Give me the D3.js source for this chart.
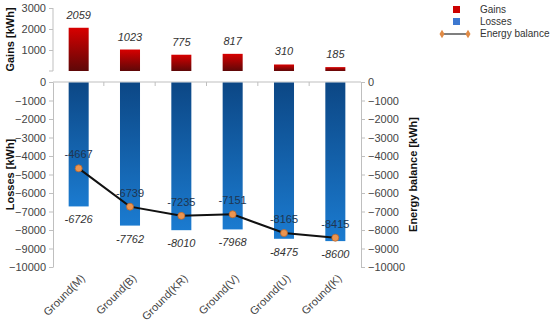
<!DOCTYPE html>
<html>
<head>
<meta charset="utf-8">
<script src="https://cdn.jsdelivr.net/npm/d3@7"></script>
<style>
	body {
		padding: 0;
		margin: 0;
		background: #fff;
	}
	text {
		font-family: "Liberation Sans", Arial, sans-serif;
	}
	.axis path, .axis line {
		stroke: #bfbfbf;
	}
	.axis text {
		font-size: 11px;
		fill: #444;
	}
	.ttl {
		font-size: 11px;
		font-weight: bold;
		fill: #111;
	}
	.val {
		font-size: 11px;
		font-style: italic;
		fill: #333;
	}
	.bal {
		font-size: 11px;
		fill: #1f3550;
	}
</style>
</head>
<body>
<div id="content"></div>
<script>
// Data
var categories = ['Ground(M)', 'Ground(B)', 'Ground(KR)', 'Ground(V)', 'Ground(U)', 'Ground(K)'];
var gains = [2059, 1023, 775, 817, 310, 185];
var losses = [-6726, -7762, -8010, -7968, -8475, -8600];
var balance = [-4667, -6739, -7235, -7151, -8165, -8415];
var gainTicks = [1000, 2000, 3000];
var lossTicks = [0, -1000, -2000, -3000, -4000, -5000, -6000, -7000, -8000, -9000, -10000];

var w = 550, h = 322;
var left = 53, right = 361;

var svg = d3.select('#content')
	.append('svg')
	.attr('width', w)
	.attr('height', h);

// gradients for the bars
var defs = svg.append('defs');
function grad(id, top, bottom) {
	var g = defs.append('linearGradient')
		.attr('id', id)
		.attr('x1', 0).attr('y1', 0)
		.attr('x2', 0).attr('y2', 1);
	g.append('stop').attr('offset', '0%').attr('stop-color', top);
	g.append('stop').attr('offset', '100%').attr('stop-color', bottom);
}
grad('gGain', '#d80000', '#5e0808');
grad('gLoss', '#0c4785', '#1b7bd0');

// Scales
var x = d3.scaleBand()
	.domain(categories)
	.range([left, right])
	.paddingInner(0.61)
	.paddingOuter(0.305);
var yGain = d3.scaleLinear().domain([0, 3000]).range([71, 8]);
var yLoss = d3.scaleLinear().domain([0, -10000]).range([82, 267]);

// Gains axis (top panel)
svg.append('g')
	.attr('class', 'axis')
	.attr('transform', 'translate(' + left + ',0)')
	.call(d3.axisLeft(yGain).tickValues(gainTicks).tickSize(4).tickSizeOuter(0).tickFormat(d3.format('d')))
	.call(g => g.select('.domain').attr('d', 'M0,' + yGain(3000) + 'V' + yGain(0) + 'H-4'));

// Losses axis (left, bottom panel)
svg.append('g')
	.attr('class', 'axis')
	.attr('transform', 'translate(' + left + ',0)')
	.call(d3.axisLeft(yLoss).tickValues(lossTicks).tickSize(4).tickSizeOuter(0).tickFormat(d3.format('d')));

// Energy balance axis (right)
svg.append('g')
	.attr('class', 'axis')
	.attr('transform', 'translate(' + right + ',0)')
	.call(d3.axisRight(yLoss).tickValues(lossTicks).tickSize(4).tickSizeOuter(0).tickFormat(d3.format('d')));

// Category axis at zero line
var xAxis = svg.append('g')
	.attr('class', 'axis')
	.attr('transform', 'translate(0,' + yLoss(0) + ')');
xAxis.append('line')
	.attr('x1', left).attr('x2', right)
	.attr('y1', 0).attr('y2', 0);
xAxis.selectAll('.sep')
	.data(categories.slice(1))
	.join('line')
	.attr('class', 'sep')
	.attr('x1', d => x(d) - x.step() * x.paddingInner() / 2 - 0.5)
	.attr('x2', d => x(d) - x.step() * x.paddingInner() / 2 - 0.5)
	.attr('y1', 0).attr('y2', 4);

// Category labels (rotated)
svg.selectAll('.cat')
	.data(categories)
	.join('text')
	.attr('class', 'cat')
	.attr('text-anchor', 'end')
	.attr('font-size', 11)
	.attr('fill', '#444')
	.attr('transform', d => 'translate(' + (x(d) + x.bandwidth() / 2 + 7) + ',279) rotate(-45)')
	.text(d => d);

// Gain bars
svg.selectAll('.gain')
	.data(gains)
	.join('rect')
	.attr('class', 'gain')
	.attr('x', (d, i) => x(categories[i]))
	.attr('width', x.bandwidth())
	.attr('y', d => yGain(d))
	.attr('height', d => yGain(0) - yGain(d))
	.attr('fill', 'url(#gGain)');

svg.selectAll('.gainLbl')
	.data(gains)
	.join('text')
	.attr('class', 'val')
	.attr('text-anchor', 'middle')
	.attr('x', (d, i) => x(categories[i]) + x.bandwidth() / 2)
	.attr('y', d => yGain(d) - 9)
	.text(d => d);

// Loss bars
svg.selectAll('.loss')
	.data(losses)
	.join('rect')
	.attr('class', 'loss')
	.attr('x', (d, i) => x(categories[i]))
	.attr('width', x.bandwidth())
	.attr('y', yLoss(0) + 0.5)
	.attr('height', d => yLoss(d) - yLoss(0) - 0.5)
	.attr('fill', 'url(#gLoss)');

svg.selectAll('.lossLbl')
	.data(losses)
	.join('text')
	.attr('class', 'val')
	.attr('text-anchor', 'middle')
	.attr('x', (d, i) => x(categories[i]) + x.bandwidth() / 2)
	.attr('y', d => yLoss(d) + 17)
	.text(d => d);

// Energy balance line
var line = d3.line()
	.x((d, i) => x(categories[i]) + x.bandwidth() / 2)
	.y(d => yLoss(d));
svg.append('path')
	.datum(balance)
	.attr('d', line)
	.attr('fill', 'none')
	.attr('stroke', '#111')
	.attr('stroke-width', 2);

svg.selectAll('.pt')
	.data(balance)
	.join('circle')
	.attr('class', 'pt')
	.attr('cx', (d, i) => x(categories[i]) + x.bandwidth() / 2)
	.attr('cy', d => yLoss(d))
	.attr('r', 3.5)
	.attr('fill', '#ec9550')
	.attr('stroke', '#b8672e')
	.attr('stroke-width', 0.8);

svg.selectAll('.balLbl')
	.data(balance)
	.join('text')
	.attr('class', 'bal')
	.attr('text-anchor', 'middle')
	.attr('x', (d, i) => x(categories[i]) + x.bandwidth() / 2)
	.attr('y', d => yLoss(d) - 10)
	.text(d => d);

// Axis titles
svg.append('text')
	.attr('class', 'ttl')
	.attr('text-anchor', 'middle')
	.attr('transform', 'translate(14,' + ((yGain(3000) + yGain(0)) / 2) + ') rotate(-90)')
	.text('Gains [kWh]');
svg.append('text')
	.attr('class', 'ttl')
	.attr('text-anchor', 'middle')
	.attr('transform', 'translate(14,' + ((yLoss(0) + yLoss(-10000)) / 2) + ') rotate(-90)')
	.text('Losses [kWh]');
svg.append('text')
	.attr('class', 'ttl')
	.attr('text-anchor', 'middle')
	.attr('transform', 'translate(417,' + ((yLoss(0) + yLoss(-10000)) / 2) + ') rotate(-90)')
	.text('Energy balance  [kWh]');

// Legend
var legend = svg.append('g').attr('transform', 'translate(453,0)');
legend.append('rect').attr('x', 0).attr('y', 6).attr('width', 7).attr('height', 7).attr('fill', '#cc0000');
legend.append('rect').attr('x', 0).attr('y', 18).attr('width', 7).attr('height', 7).attr('fill', '#3d78d0');
legend.append('line').attr('x1', -11).attr('x2', 15).attr('y1', 34).attr('y2', 34).attr('stroke', '#555').attr('stroke-width', 1.5);
legend.selectAll('.dia')
	.data([-11, 15])
	.join('path')
	.attr('d', d3.symbol(d3.symbolDiamond, 22))
	.attr('transform', d => 'translate(' + d + ',34)')
	.attr('fill', '#e08a45');
legend.selectAll('.lt')
	.data(['Gains', 'Losses', 'Energy balance'])
	.join('text')
	.attr('x', 27)
	.attr('y', (d, i) => 13 + i * 12)
	.attr('font-size', 10)
	.attr('fill', '#333')
	.text(d => d);
</script>
</body>
</html>
